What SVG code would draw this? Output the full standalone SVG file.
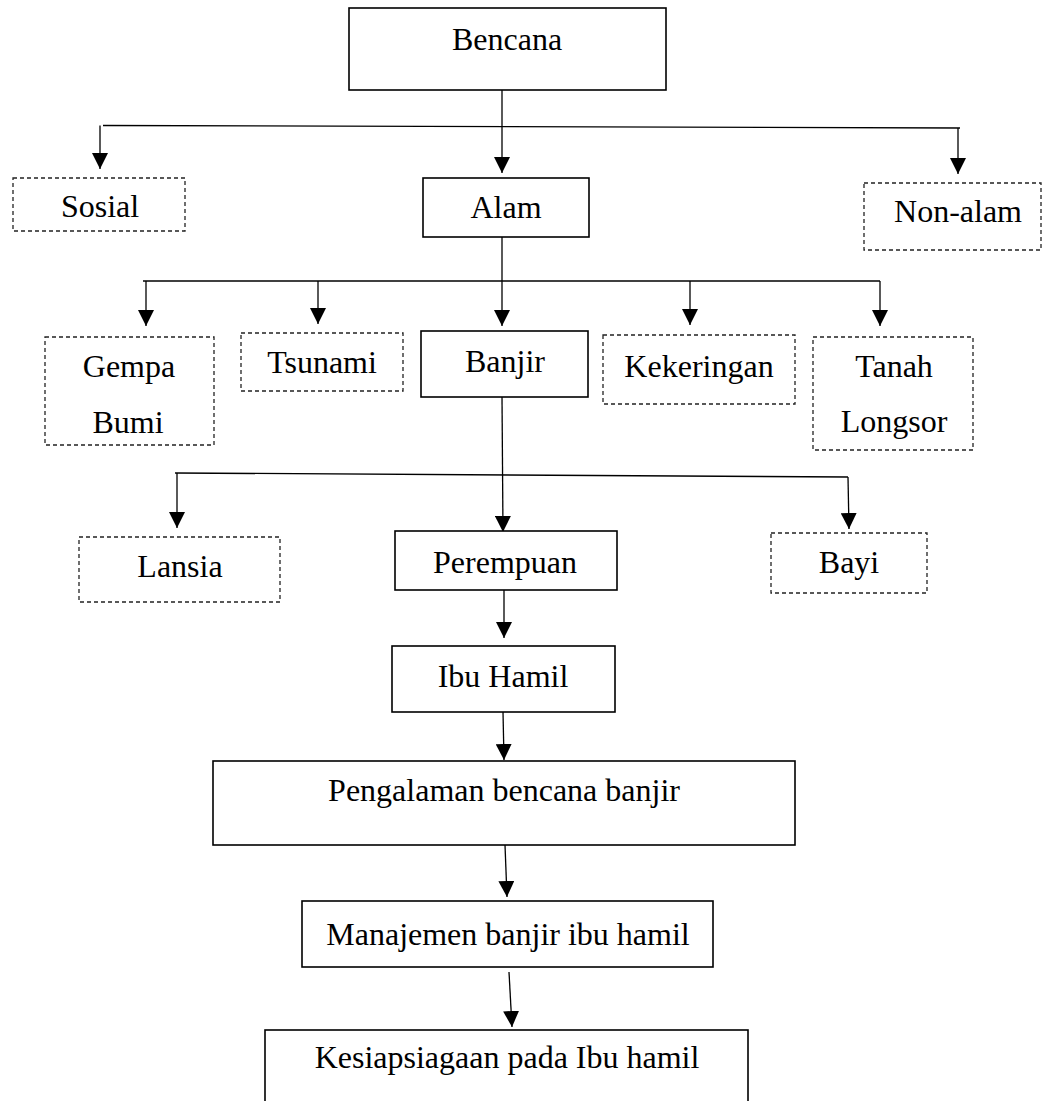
<svg xmlns="http://www.w3.org/2000/svg" width="1042" height="1101" viewBox="0 0 1042 1101">
<style>
.solid{fill:#fff;stroke:#000;stroke-width:1.6}
.dash{fill:#fff;stroke:#222;stroke-width:1.3;stroke-dasharray:4 3}
.t{font-family:"Liberation Serif","Times New Roman",serif;font-size:32px;fill:#000;text-anchor:middle}
.c{stroke:#000;stroke-width:1.3;fill:none}
.a{marker-end:url(#arr)}
</style>
<defs>
<marker id="arr" markerUnits="userSpaceOnUse" markerWidth="16" markerHeight="16" refX="16" refY="8" orient="auto">
<path d="M0,0 L16,8 L0,16 z" fill="#000"/>
</marker>
</defs>
<rect width="1042" height="1101" fill="#fff"/>
<g id="connectors">
<line class="c a" x1="502" y1="90" x2="502" y2="173"/>
<line class="c" x1="103" y1="125.5" x2="960" y2="128"/>
<line class="c a" x1="100" y1="125.5" x2="100" y2="169"/>
<line class="c a" x1="958" y1="128" x2="958" y2="174"/>
<line class="c a" x1="502" y1="237" x2="502" y2="326"/>
<line class="c" x1="143" y1="281" x2="880" y2="281"/>
<line class="c a" x1="146" y1="281" x2="146" y2="326"/>
<line class="c a" x1="318" y1="281" x2="318" y2="324"/>
<line class="c a" x1="690" y1="281" x2="690" y2="325"/>
<line class="c a" x1="880" y1="281" x2="880" y2="326"/>
<line class="c a" x1="502" y1="397" x2="503" y2="532"/>
<line class="c" x1="175" y1="473" x2="848" y2="477"/>
<line class="c a" x1="177" y1="473" x2="177" y2="528"/>
<line class="c a" x1="848" y1="477" x2="849" y2="529"/>
<line class="c a" x1="504" y1="590" x2="504" y2="638"/>
<line class="c a" x1="503" y1="712" x2="504" y2="760"/>
<line class="c a" x1="505" y1="845" x2="507" y2="897"/>
<line class="c a" x1="509" y1="972" x2="512" y2="1027"/>
</g>
<g id="n-bencana"><rect class="solid" x="349" y="8" width="317" height="82"/><text class="t" x="507" y="50">Bencana</text></g>
<g id="n-sosial"><rect class="dash" x="13" y="178" width="172" height="53"/><text class="t" x="100" y="217">Sosial</text></g>
<g id="n-alam"><rect class="solid" x="423" y="178" width="166" height="59"/><text class="t" x="506" y="218">Alam</text></g>
<g id="n-nonalam"><rect class="dash" x="864" y="183" width="177" height="67"/><text class="t" x="958" y="222">Non-alam</text></g>
<g id="n-gempa"><rect class="dash" x="45" y="337" width="169" height="108"/><text class="t" x="129" y="377">Gempa</text><text class="t" x="128" y="433">Bumi</text></g>
<g id="n-tsunami"><rect class="dash" x="241" y="333" width="162" height="58"/><text class="t" x="322" y="373">Tsunami</text></g>
<g id="n-banjir"><rect class="solid" x="421" y="331" width="167" height="66"/><text class="t" x="505" y="372">Banjir</text></g>
<g id="n-kekeringan"><rect class="dash" x="603" y="335" width="192" height="69"/><text class="t" x="699" y="377">Kekeringan</text></g>
<g id="n-tanah"><rect class="dash" x="813" y="337" width="160" height="113"/><text class="t" x="894" y="377">Tanah</text><text class="t" x="894" y="432">Longsor</text></g>
<g id="n-lansia"><rect class="dash" x="79" y="537" width="201" height="65"/><text class="t" x="180" y="577">Lansia</text></g>
<g id="n-perempuan"><rect class="solid" x="395" y="531" width="222" height="59"/><text class="t" x="505" y="573">Perempuan</text></g>
<g id="n-bayi"><rect class="dash" x="771" y="533" width="156" height="60"/><text class="t" x="849" y="573">Bayi</text></g>
<g id="n-ibuhamil"><rect class="solid" x="392" y="646" width="223" height="66"/><text class="t" x="503" y="687">Ibu Hamil</text></g>
<g id="n-pengalaman"><rect class="solid" x="213" y="761" width="582" height="84"/><text class="t" x="504" y="801">Pengalaman bencana banjir</text></g>
<g id="n-manajemen"><rect class="solid" x="302" y="901" width="411" height="66"/><text class="t" x="508" y="945">Manajemen banjir ibu hamil</text></g>
<g id="n-kesiap"><rect class="solid" x="265" y="1030" width="483" height="90"/><text class="t" x="507" y="1068">Kesiapsiagaan pada Ibu hamil</text></g>
</svg>
